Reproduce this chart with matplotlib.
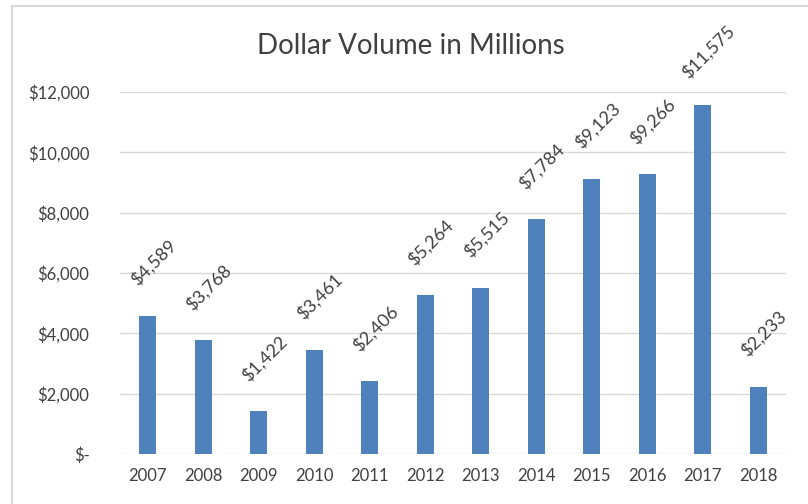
import matplotlib.pyplot as plt
from matplotlib.patches import Rectangle
from matplotlib.ticker import FuncFormatter

# datos
anios = ["2007", "2008", "2009", "2010", "2011", "2012",
         "2013", "2014", "2015", "2016", "2017", "2018"]
volumen = [4589, 3768, 1422, 3461, 2406, 5264, 5515, 7784, 9123, 9266, 11575, 2233]

gris = "#404040"
azul = "#4f81bd"
plt.rcParams['font.family'] = ['Lato', 'DejaVu Sans']

fig = plt.figure(figsize=(8.08, 5.04), dpi=100)
ax = fig.add_axes([120 / 808, 1 - 454 / 504, 666 / 808, 362 / 504])

x = range(len(anios))
ax.bar(x, volumen, width=0.31, color=azul, zorder=3)

ax.set_xlim(-0.5, len(anios) - 0.5)
ax.set_ylim(0, 12000)
ax.set_yticks(range(0, 12001, 2000))
ax.yaxis.set_major_formatter(FuncFormatter(lambda v, p: "$-" if v == 0 else f"${v:,.0f}"))
ax.set_xticks(list(x))
ax.set_xticklabels(anios)

ax.grid(axis="y", color="#d9d9d9", linewidth=1, zorder=0)
for s in ax.spines.values():
    s.set_visible(False)
ax.tick_params(length=0, labelsize=12, colors=gris)
ax.tick_params(axis="y", pad=22)
ax.tick_params(axis="x", pad=10)

# etiquetas de datos rotadas
for i, v in enumerate(volumen):
    ax.annotate(f"${v:,.0f}", (i, v), xytext=(4, 38), textcoords="offset points",
                rotation=45, ha="center", va="center", fontsize=13, color=gris)

fig.text(411 / 808, 1 - 46 / 504, "Dollar Volume in Millions", ha="center", va="center",
         fontsize=20, color=gris)

# borde del gráfico
fig.patches.append(Rectangle((12 / 808, -0.1), 1.2, 1 - 6 / 504 + 0.1,
                             transform=fig.transFigure, fill=False,
                             edgecolor="#d9d9d9", linewidth=1.5))

fig.savefig("out.png", dpi=100)
